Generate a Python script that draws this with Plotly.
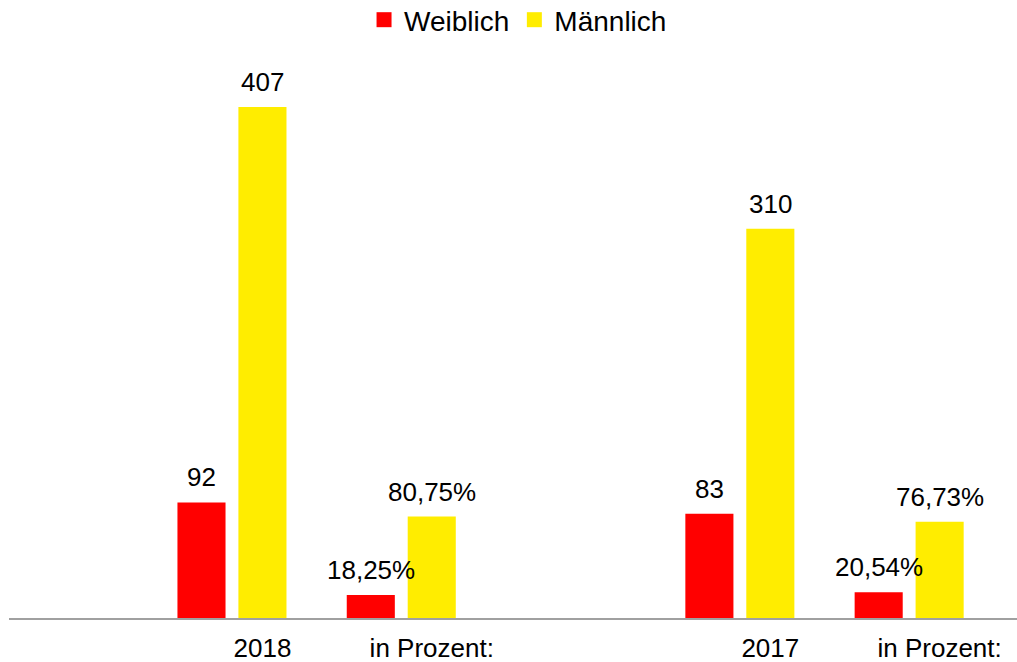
import plotly.graph_objects as go

# Data
positions = [1, 2, 4, 5]           # category slots (slot 3 left empty, as in the reference)
tick_labels = ["2018", "in Prozent:", "2017", "in Prozent:"]
weiblich = [92, 18.25, 83, 20.54]
maennlich = [407, 80.75, 310, 76.73]
weiblich_text = ["92", "18,25%", "83", "20,54%"]
maennlich_text = ["407", "80,75%", "310", "76,73%"]
series_names = ["Weiblich", "Männlich"]

RED = "#FF0000"
YELLOW = "#FFED00"
FONT = "Liberation Sans, Arial, sans-serif"
FS = 26

BW = 0.284   # bar width (in slot units)
SHIFT = 0.18 # bar centre offset from slot centre

fig = go.Figure()
fig.add_trace(go.Bar(
    x=positions, y=weiblich, name=series_names[0], showlegend=False,
    marker=dict(color=RED, line=dict(width=0)),
    width=BW, offset=-SHIFT - BW / 2,
))
fig.add_trace(go.Bar(
    x=positions, y=maennlich, name=series_names[1], showlegend=False,
    marker=dict(color=YELLOW, line=dict(width=0)),
    width=BW, offset=SHIFT - BW / 2,
))
# legend entries with larger square swatches
for name, col in zip(series_names, [RED, YELLOW]):
    fig.add_trace(go.Scatter(
        x=[None], y=[None], mode="markers", name=name,
        marker=dict(symbol="square", size=15, color=col, line=dict(width=0)),
    ))

for p, v, t in zip(positions, weiblich, weiblich_text):
    fig.add_annotation(x=p - SHIFT, y=v, text=t, showarrow=False,
                       yanchor="middle", yshift=25,
                       font=dict(family=FONT, size=FS, color="black"))
for p, v, t in zip(positions, maennlich, maennlich_text):
    fig.add_annotation(x=p + SHIFT, y=v, text=t, showarrow=False,
                       yanchor="middle", yshift=25,
                       font=dict(family=FONT, size=FS, color="black"))

fig.update_layout(
    width=1017, height=662,
    margin=dict(l=9, r=0, t=60, b=44, autoexpand=False),
    paper_bgcolor="white", plot_bgcolor="white",
    barmode="overlay",
    showlegend=True,
    legend=dict(orientation="h", x=0.505, xanchor="center",
                y=1.0717, yanchor="middle",
                font=dict(family=FONT, size=28, color="black"),
                itemclick=False),
    font=dict(family=FONT, size=FS, color="black"),
    xaxis=dict(
        range=[-0.317, 5.637],
        tickvals=[p + SHIFT for p in positions],
        ticktext=tick_labels,
        showline=True, linecolor="#A0A0A0", linewidth=2,
        showgrid=False, zeroline=False, ticks="",
        automargin=False, ticklabelstandoff=6,
        tickfont=dict(family=FONT, size=FS, color="black"),
    ),
    yaxis=dict(range=[0, 444.4], visible=False, showgrid=False, zeroline=False,
               automargin=False),
)

fig.write_html(
    "out.html",
    config={"displayModeBar": False},
    post_script="document.body.style.margin='0';document.body.style.overflow='hidden';",
)
